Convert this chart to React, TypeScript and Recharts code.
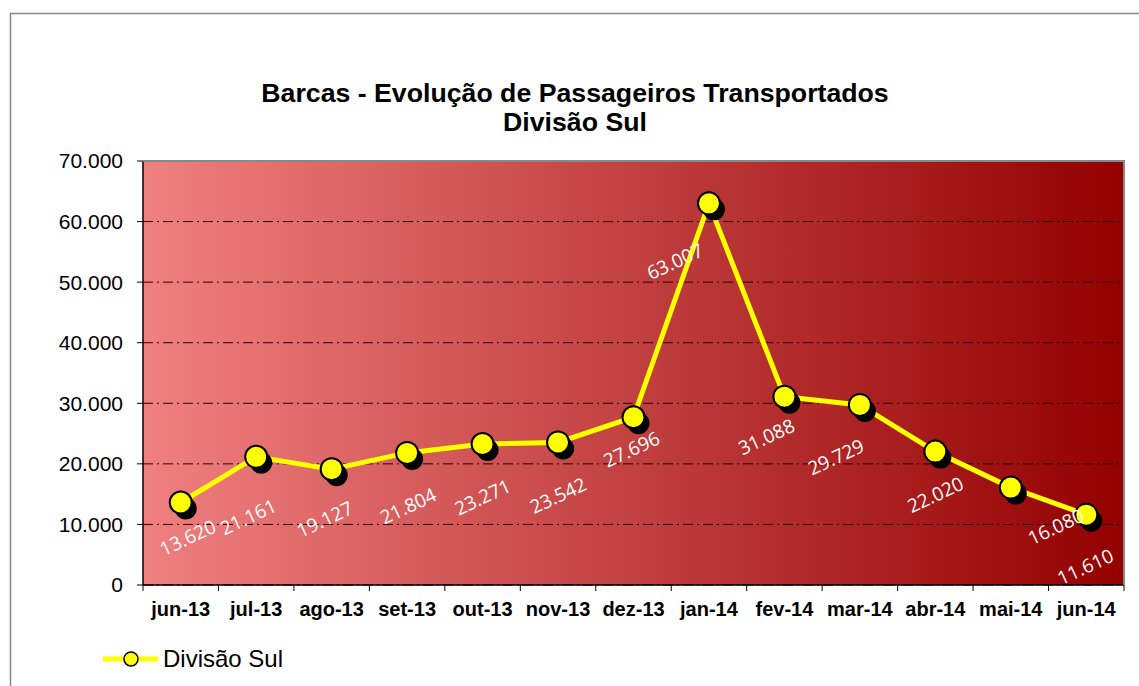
import React from 'react';
import { LineChart, Line, XAxis, YAxis, CartesianGrid, LabelList } from 'recharts';

const categories = ['jun-13', 'jul-13', 'ago-13', 'set-13', 'out-13', 'nov-13', 'dez-13', 'jan-14', 'fev-14', 'mar-14', 'abr-14', 'mai-14', 'jun-14'];
const passengers = [13620, 21161, 19127, 21804, 23271, 23542, 27696, 63007, 31088, 29729, 22020, 16080, 11610];
const yTicks = [0, 10000, 20000, 30000, 40000, 50000, 60000, 70000];
const seriesName = 'Divisão Sul';
const titleLines = ['Barcas - Evolução de Passageiros Transportados', 'Divisão Sul'];

// label nudges (style): offset of each data label from its point
const labelNudge: [number, number][] = [
  [7, 35], [-8, 60], [-7, 50], [1, 53], [0, 53], [0, 53], [-2, 32], [-34, 58], [-18, 40], [-24, 52], [0, 43], [45, 39], [-1, 52],
];

const data = categories.map((c, i) => ({ cat: c, v: passengers[i] }));

const W = 1139;
const H = 686;
const PLOT_LEFT = 143;
const PLOT_RIGHT = 1124;
const PLOT_TOP = 161;
const PLOT_BOTTOM = 585;
const BAND = (PLOT_RIGHT - PLOT_LEFT) / categories.length;
const ARIAL = '"Liberation Sans", Arial, sans-serif';

const fmt = (v: number) => {
  if (v === 0) return '0';
  const th = Math.floor(v / 1000);
  const r = String(v % 1000).padStart(3, '0');
  return `${th}.${r}`;
};

const Dot = (props: any) => {
  const { cx, cy, index } = props;
  if (cx == null || cy == null) return null;
  return (
    <g key={`dot-${index}`}>
      <circle cx={cx + 5} cy={cy + 6} r={11} fill="#000" />
      <circle cx={cx} cy={cy} r={11} fill="#FFFF00" stroke="#000" strokeWidth={2} />
    </g>
  );
};

const DataLabel = (props: any) => {
  const { x, y, value, index } = props;
  if (x == null || y == null) return null;
  const [dx, dy] = labelNudge[index] || [0, 45];
  const lx = x + dx;
  const ly = y + dy;
  return (
    <text
      x={lx}
      y={ly}
      textAnchor="middle"
      dominantBaseline="central"
      fill="#fff"
      fontFamily='"Open Sans", sans-serif'
      fontSize={19}
      transform={`rotate(-25, ${lx}, ${ly})`}
    >
      {fmt(value)}
    </text>
  );
};

const XTick = (props: any) => {
  const { x, payload, index } = props;
  return (
    <g>
      <line x1={x - BAND / 2} x2={x - BAND / 2} y1={PLOT_BOTTOM} y2={PLOT_BOTTOM + 6} stroke="#000" strokeWidth={1} />
      {index === categories.length - 1 && (
        <line x1={x + BAND / 2} x2={x + BAND / 2} y1={PLOT_BOTTOM} y2={PLOT_BOTTOM + 6} stroke="#000" strokeWidth={1} />
      )}
      <text x={x} y={PLOT_BOTTOM + 31} textAnchor="middle" fontFamily={ARIAL} fontWeight="bold" fontSize={20} fill="#000">
        {payload.value}
      </text>
    </g>
  );
};

export default function App() {
  return (
    <div style={{ position: 'absolute', left: 0, top: 0, width: W, height: H, overflow: 'hidden', background: '#fff' }}>
      <svg width={W} height={H} style={{ position: 'absolute', left: 0, top: 0 }}>
        <rect x={10.5} y={13.5} width={1300} height={1000} fill="none" stroke="#888" strokeWidth={1.5} />
        <text x={575} y={102} textAnchor="middle" fontFamily={ARIAL} fontWeight="bold" fontSize={26.7} fill="#000">
          {titleLines[0]}
        </text>
        <text x={575} y={131} textAnchor="middle" fontFamily={ARIAL} fontWeight="bold" fontSize={26.7} fill="#000">
          {titleLines[1]}
        </text>
        <line x1={103} x2={158} y1={659} y2={659} stroke="#FFFF00" strokeWidth={5} />
        <circle cx={131} cy={659} r={7} fill="#FFFF00" stroke="#000" strokeWidth={1.5} />
        <text x={163} y={667} fontFamily={ARIAL} fontSize={24} fill="#000">
          {seriesName}
        </text>
      </svg>
      <div style={{ position: 'absolute', left: 0, top: 0 }}>
        <LineChart width={W} height={H} data={data} margin={{ top: PLOT_TOP, right: W - PLOT_RIGHT, left: 0, bottom: 61 }}>
          <defs>
            <linearGradient id="bgGrad" x1="0" y1="0" x2="1" y2="0">
              <stop offset="0%" stopColor="#F08080" />
              <stop offset="100%" stopColor="#930000" />
            </linearGradient>
          </defs>
          <CartesianGrid
            vertical={false}
            fill="url(#bgGrad)"
            fillOpacity={1}
            stroke="#2a0000"
            strokeDasharray="10 4 2 4"
          />
          <XAxis
            dataKey="cat"
            height={40}
            interval={0}
            padding={{ left: BAND / 2, right: BAND / 2 }}
            tickLine={false}
            axisLine={{ stroke: '#000', strokeWidth: 1.5 }}
            tick={<XTick />}
          />
          <YAxis
            width={PLOT_LEFT}
            domain={[0, 70000]}
            ticks={yTicks}
            tickFormatter={fmt}
            tickSize={6}
            tickMargin={14}
            tick={{ fontFamily: ARIAL, fontSize: 21, fill: '#000' }}
            tickLine={{ stroke: '#000' }}
            axisLine={{ stroke: '#000', strokeWidth: 1.5 }}
          />
          <Line
            dataKey="v"
            name={seriesName}
            stroke="#FFFF00"
            strokeWidth={5}
            dot={Dot}
            activeDot={false}
            isAnimationActive={false}
          >
            <LabelList dataKey="v" content={DataLabel} />
          </Line>
        </LineChart>
      </div>
      <svg width={W} height={H} style={{ position: 'absolute', left: 0, top: 0, pointerEvents: 'none' }}>
        <line x1={PLOT_LEFT} x2={PLOT_RIGHT + 1} y1={PLOT_TOP} y2={PLOT_TOP} stroke="#888" strokeWidth={2} />
        <line x1={PLOT_RIGHT} x2={PLOT_RIGHT} y1={PLOT_TOP} y2={PLOT_BOTTOM} stroke="#888" strokeWidth={2} />
      </svg>
    </div>
  );
}
